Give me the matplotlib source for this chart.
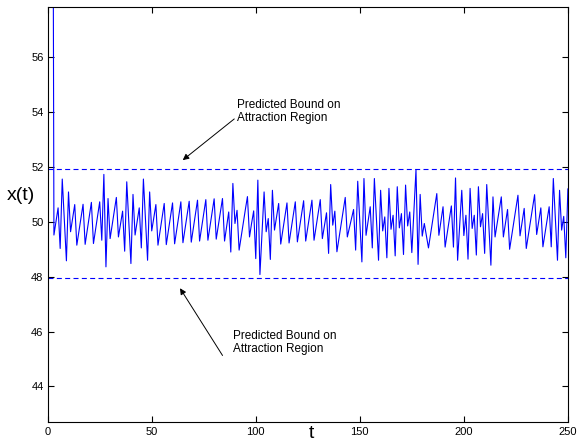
import numpy as np
import matplotlib
matplotlib.use("Agg")
import matplotlib.pyplot as plt

plt.rcParams['font.family'] = ['Liberation Sans', 'DejaVu Sans']

# state x(t) for t = 0..250 (first three points lie far above the window)
x_vals = [
    90.0, 85.0, 80.0, 49.52, 50.02, 50.51, 49.03, 51.56, 50.07, 48.58,
    51.09, 49.64, 50.13, 50.63, 49.15, 49.65, 50.15, 50.64, 49.18, 49.68,
    50.20, 50.71, 49.21, 49.72, 50.22, 50.73, 49.33, 51.73, 48.36, 50.85,
    49.39, 49.89, 50.39, 50.89, 49.45, 49.92, 50.39, 48.93, 51.46, 49.97,
    48.48, 51.00, 49.52, 50.02, 50.51, 49.05, 51.56, 50.08, 48.60, 51.09,
    49.67, 50.15, 50.63, 49.15, 49.66, 50.16, 50.67, 49.17, 49.68, 50.18,
    50.69, 49.20, 49.70, 50.21, 50.73, 49.24, 49.74, 50.25, 50.75, 49.26,
    49.77, 50.28, 50.79, 49.30, 49.80, 50.30, 50.81, 49.33, 49.84, 50.34,
    50.84, 49.37, 49.86, 50.36, 50.85, 49.30, 49.83, 50.36, 48.90, 51.40,
    49.94, 50.42, 48.97, 49.47, 49.96, 50.45, 50.92, 49.45, 49.95, 50.40,
    48.66, 51.52, 48.08, 49.60, 51.09, 49.64, 50.12, 48.63, 51.15, 49.70,
    50.18, 50.67, 49.19, 49.69, 50.19, 50.69, 49.23, 49.73, 50.23, 50.73,
    49.27, 49.77, 50.27, 50.77, 49.30, 49.80, 50.30, 50.79, 49.33, 49.82,
    50.32, 50.81, 49.39, 49.86, 50.33, 48.85, 51.36, 49.88, 50.39, 48.91,
    49.40, 49.90, 50.40, 50.89, 49.45, 49.78, 50.12, 50.45, 48.97, 51.48,
    49.97, 48.54, 51.58, 49.51, 50.03, 50.55, 49.05, 51.58, 50.09, 48.60,
    51.15, 49.67, 50.18, 48.69, 51.22, 49.73, 50.24, 48.76, 51.28, 49.78,
    50.30, 48.81, 51.34, 49.85, 50.36, 48.88, 50.38, 51.90, 48.45, 51.00,
    49.48, 49.94, 49.50, 49.05, 49.55, 50.04, 50.54, 51.03, 49.51, 50.03,
    50.55, 49.08, 49.58, 50.08, 50.58, 49.08, 51.60, 48.60, 49.90, 51.15,
    49.50, 50.24, 48.64, 51.22, 49.76, 50.24, 48.79, 51.28, 49.82, 50.30,
    48.85, 51.36, 49.90, 48.42, 50.91, 49.45, 49.94, 50.43, 50.91, 49.45,
    49.95, 50.45, 49.00, 49.50, 49.99, 50.48, 50.97, 49.49, 49.99, 50.49,
    49.03, 49.52, 50.01, 50.50, 50.99, 49.54, 50.03, 50.51, 49.09, 49.58,
    50.06, 50.55, 49.09, 51.58, 50.10, 48.60, 51.15, 49.70, 50.20, 48.69,
    51.20,
]
t_vals = np.arange(len(x_vals))

upper_bound = 51.91
lower_bound = 47.96
note = "Predicted Bound on\nAttraction Region"

fig = plt.figure(figsize=(5.78, 4.44), dpi=100)
ax = fig.add_axes([0.0825, 0.0486, 0.9, 0.935])

ax.plot(t_vals, x_vals, color='#0000ff', lw=0.8)
ax.axhline(upper_bound, color='#0000ff', lw=0.8, linestyle=(0, (4.5, 3)))
ax.axhline(lower_bound, color='#0000ff', lw=0.8, linestyle=(0, (4.5, 3)))

ax.annotate(note, xy=(64.9, 52.25), xytext=(91, 54.02),
            fontsize=8.5, va='center', ha='left',
            arrowprops=dict(arrowstyle='-|>', color='k', lw=0.7,
                            mutation_scale=9, shrinkA=0, shrinkB=0,
                            relpos=(0, 0.3)))
ax.annotate(note, xy=(63.6, 47.58), xytext=(89, 45.6),
            fontsize=8.5, va='center', ha='left',
            arrowprops=dict(arrowstyle='-|>', color='k', lw=0.7,
                            mutation_scale=9, shrinkA=0, shrinkB=0,
                            relpos=(-0.1, 0.0)))

ax.set_xlim(0, 250)
ax.set_ylim(42.69, 57.82)
ax.set_xticks([0, 50, 100, 150, 200, 250])
ax.set_yticks([44, 46, 48, 50, 52, 54, 56])
ax.tick_params(direction='in', top=True, right=True, length=4,
               width=0.8, labelsize=8, pad=3)
for s in ax.spines.values():
    s.set_linewidth(0.8)

fig.text(21 / 578, 1 - 196 / 444, "x(t)", fontsize=14, ha='center', va='center')
fig.text(311 / 578, 1 - 433 / 444, "t", fontsize=14, ha='center', va='center')

fig.savefig("out.png", dpi=100)
